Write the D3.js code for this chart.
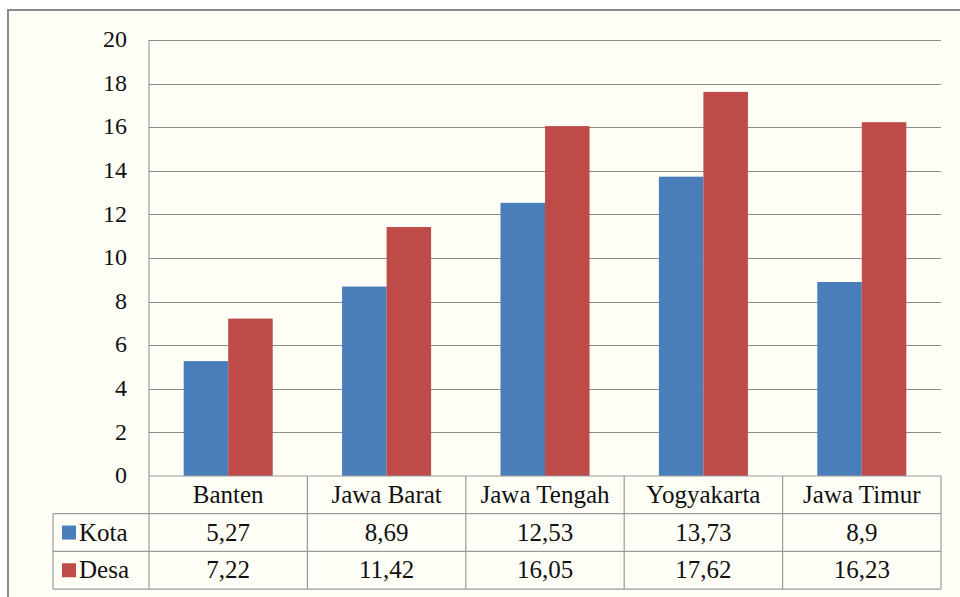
<!DOCTYPE html>
<html>
<head>
<meta charset="utf-8">
<script src="https://cdn.jsdelivr.net/npm/d3@7"></script>
</head>
<body style="margin:0; background:#fffef6">
<svg id="chart" width="960" height="597"></svg>
<script>
"use strict";

// Data
var categories = ["Banten", "Jawa Barat", "Jawa Tengah", "Yogyakarta", "Jawa Timur"];
var seriesNames = ["Kota", "Desa"];
var kota = [5.27, 8.69, 12.53, 13.73, 8.9];
var desa = [7.22, 11.42, 16.05, 17.62, 16.23];
var kotaLabels = ["5,27", "8,69", "12,53", "13,73", "8,9"];
var desaLabels = ["7,22", "11,42", "16,05", "17,62", "16,23"];
var yTicks = [0, 2, 4, 6, 8, 10, 12, 14, 16, 18, 20];
var colours = ["#4a7ebb", "#be4b48"];
var FONT = "'Times New Roman', 'Liberation Serif', Tinos, serif";

var svg = d3.select("#chart");

// Layout
var plotLeft = 149, plotRight = 941, plotTop = 40, zeroY = 476;
var rowH = 37.7;
var legendX = 53;

// white strip outside the chart frame
svg.append("rect").attr("x", 0).attr("y", 0).attr("width", 960).attr("height", 10).attr("fill", "#fff");
svg.append("rect").attr("x", 0).attr("y", 0).attr("width", 8).attr("height", 597).attr("fill", "#fff");

// outer border
svg.append("rect").attr("x", 8).attr("y", 10).attr("width", 970).attr("height", 600)
  .attr("fill", "none").attr("stroke", "#8a8a8a").attr("stroke-width", 2);

var x = d3.scaleBand().domain(categories).range([plotLeft, plotRight]);
var xs = d3.scaleBand().domain(seriesNames)
  .range([x.bandwidth() * 0.219, x.bandwidth() * 0.781]);
var y = d3.scaleLinear().domain([0, 20]).range([zeroY, plotTop]);

// gridlines
svg.append("g").selectAll("line").data(yTicks.slice(1)).join("line")
  .attr("x1", plotLeft).attr("x2", plotRight)
  .attr("y1", d => Math.round(y(d)) + 0.5).attr("y2", d => Math.round(y(d)) + 0.5)
  .attr("stroke", "#8c8c8c").attr("stroke-width", 1);

// y axis labels
svg.append("g").selectAll("text").data(yTicks).join("text")
  .attr("x", 127).attr("y", d => y(d))
  .attr("dy", "0.3em").attr("text-anchor", "end")
  .style("font-family", FONT).style("font-size", "24px").attr("fill", "#111")
  .text(d => d);

// bars
var series = [kota, desa];
var groups = svg.append("g").selectAll("g").data(series).join("g")
  .attr("fill", (d, i) => colours[i]);
groups.selectAll("rect").data((d, i) => d.map((v, j) => ({v: v, cat: categories[j], s: seriesNames[i]})))
  .join("rect")
  .attr("x", d => x(d.cat) + xs(d.s))
  .attr("width", xs.bandwidth())
  .attr("y", d => y(d.v))
  .attr("height", d => zeroY - y(d.v));

// data table
var t = svg.append("g").attr("stroke", "#9a9a9a").attr("stroke-width", 1.2);
var rowYs = [zeroY, zeroY + rowH, zeroY + rowH * 2, zeroY + rowH * 3];
t.append("line").attr("x1", plotLeft).attr("x2", plotRight).attr("y1", rowYs[0]).attr("y2", rowYs[0]);
for (let i = 1; i < 4; i++) {
  t.append("line").attr("x1", legendX).attr("x2", plotRight).attr("y1", rowYs[i]).attr("y2", rowYs[i]);
}
// plot left edge runs from top to the table bottom
t.append("line").attr("x1", plotLeft).attr("x2", plotLeft).attr("y1", plotTop).attr("y2", rowYs[3]);
t.append("line").attr("x1", legendX).attr("x2", legendX).attr("y1", rowYs[1]).attr("y2", rowYs[3]);
categories.forEach(function(c) {
  let xe = x(c) + x.bandwidth();
  t.append("line").attr("x1", xe).attr("x2", xe).attr("y1", rowYs[0]).attr("y2", rowYs[3]);
});

var txt = svg.append("g");
txt.selectAll(".cat").data(categories).join("text").attr("class", "cat")
  .attr("x", d => x(d) + x.bandwidth() / 2).attr("y", rowYs[0] + rowH / 2).attr("dy", "0.32em")
  .style("font-family", FONT).style("font-size", "25px").attr("fill", "#111").attr("text-anchor", "middle")
  .text(d => d);
[kotaLabels, desaLabels].forEach(function(labels, i) {
  txt.append("g").selectAll("text").data(labels).join("text")
    .attr("x", (d, j) => x(categories[j]) + x.bandwidth() / 2)
    .attr("y", rowYs[i + 1] + rowH / 2).attr("dy", "0.32em")
    .style("font-family", FONT).style("font-size", "25px").attr("fill", "#111").attr("text-anchor", "middle")
    .text(d => d);

  svg.append("rect").attr("x", 62).attr("y", rowYs[i + 1] + rowH / 2 - 7)
    .attr("width", 14).attr("height", 14).attr("fill", colours[i]);
  svg.append("text").attr("x", 79).attr("y", rowYs[i + 1] + rowH / 2).attr("dy", "0.32em")
    .style("font-family", FONT).style("font-size", "25px").attr("fill", "#111").text(seriesNames[i]);
});
</script>
</body>
</html>
